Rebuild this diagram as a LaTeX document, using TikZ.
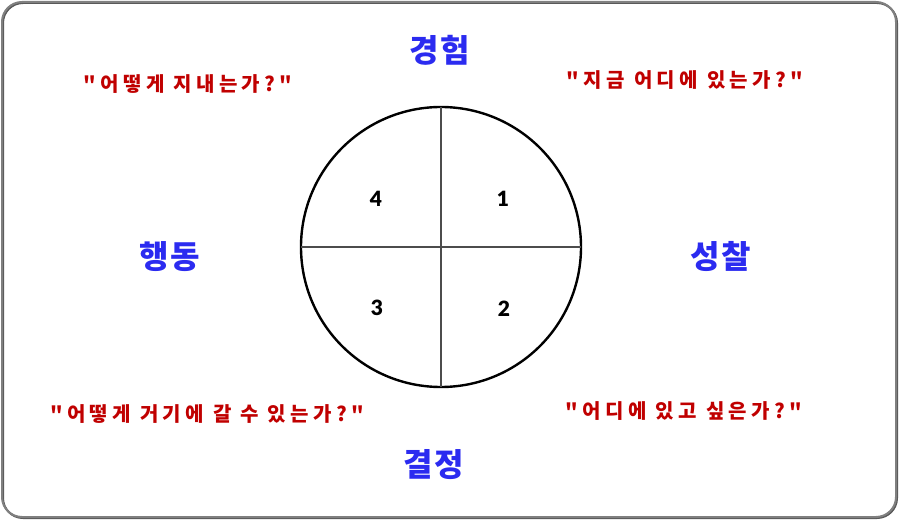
\documentclass[tikz,border=0pt]{standalone}
\usepackage{fontspec}
\newfontfamily\korfont[LetterSpace=6]{Noto Sans CJK KR}
\newfontfamily\quotefont[LetterSpace=22]{Noto Sans CJK KR}
\newfontfamily\numfont{Lato Black}
\definecolor{stageblue}{HTML}{2B2BF0}
\definecolor{askred}{HTML}{C00000}
\tikzset{
  stage/.style={text=stageblue,font=\korfont\fontsize{32}{38}\selectfont\bfseries},
  ask/.style={text=askred,font=\quotefont\fontsize{20}{24}\selectfont\bfseries},
  quarter/.style={font=\numfont\fontsize{21}{25}\selectfont}
}
\begin{document}
\begin{tikzpicture}[x=1pt,y=-1pt]
		\useasboundingbox (0,0) rectangle (900,521);
		\draw [gray!70!black,line width=2pt,rounded corners=20pt] (3,3) rectangle (897,518);
		\draw [gray,line width=2pt,rounded corners=20pt] (2,2) rectangle (896,517);
		
		\coordinate (c) at (441,247);
		\draw [line width=2.4pt] (c) circle [radius=140];
		\coordinate (top) at (441,107); \coordinate (bot) at (441,387);
		\coordinate (lft) at (301,247); \coordinate (rgt) at (581,247);
		\draw [black!70,line width=1.6pt] (top) -- (bot);
		\draw [black!70,line width=1.6pt] (lft) -- (rgt);
		
		\node (q1) at (503,199) [quarter] {1};
		\node (q2) at (504,309) [quarter] {2};
		\node (q3) at (377,308) [quarter] {3};
		\node (q4) at (376,199) [quarter] {4};
		
		\node (exp) at (440,50) [stage] {경험};
		\node (ref) at (721,257) [stage] {성찰};
		\node (dec) at (434,465) [stage] {결정};
		\node (act) at (170,257) [stage] {행동};
		
		\node (how) at (188,84) [ask] {"어떻게 지내는가?"};
		\node (now) at (685,80) [ask] {"지금 어디에 있는가?"};
		\node (want) at (684,411) [ask] {"어디에 있고 싶은가?"};
		\node (way) at (207,414) [ask] {"어떻게 거기에 갈 수 있는가?"};
\end{tikzpicture}
\end{document}
